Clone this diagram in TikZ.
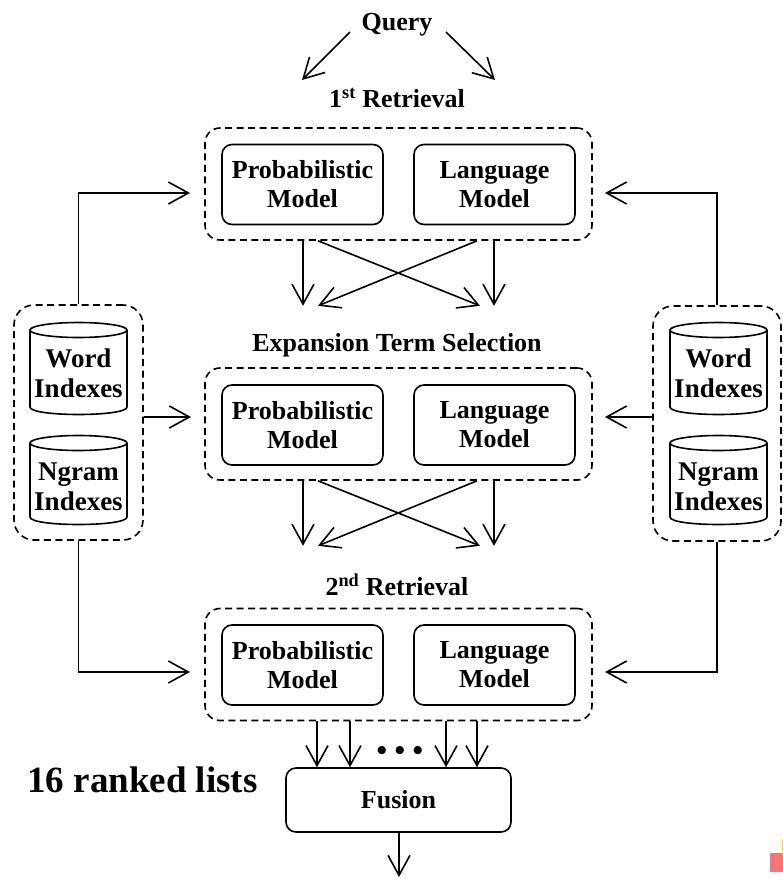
\documentclass[tikz,border=0pt]{standalone}
\usepackage{fontspec}
\setmainfont{Liberation Serif}
\usetikzlibrary{arrows.meta}

% Cylinder: #1 centre x, #2 x radius, #3 top y, #4 bottom y, #5 y radius
\newcommand\dbdrum[5]{%
  \draw (#1-#2,#3) -- (#1-#2,#4)
    .. controls (#1-#2,#4+1.333*#5) and (#1+#2,#4+1.333*#5) .. (#1+#2,#4)
    -- (#1+#2,#3);
  \draw (#1,#3) ellipse[x radius=#2pt, y radius=#5pt];
}

\begin{document}
\begin{tikzpicture}[x=1pt,y=-1pt,line width=1.6pt,
  arr/.style={-{Straight Barb[length=20pt,width=22pt]}},
  grp/.style={draw,dash pattern=on 7pt off 4.5pt,rounded corners=15pt,
    minimum width=387pt,minimum height=112pt,inner sep=0pt},
  dbgrp/.style={draw,dash pattern=on 7pt off 4.5pt,rounded corners=20pt,
    minimum height=235pt,inner sep=0pt},
  model/.style={draw,rounded corners=10pt,minimum width=161pt,minimum height=80pt,
    align=center,inner sep=0pt,font=\fontsize{26}{29}\selectfont\bfseries},
  lbl/.style={inner sep=0pt,align=center,font=\fontsize{26}{29}\selectfont\bfseries}
]
\useasboundingbox (0,0) rectangle (783,879);

% query and first retrieval
\node[lbl] (query) at (397,25) {Query};
\coordinate (qs1) at (350,32);  \coordinate (qe1) at (302,80);
\coordinate (qs2) at (446,32);  \coordinate (qe2) at (495,80);
\draw[arr] (qs1) -- (qe1);
\draw[arr] (qs2) -- (qe2);

\node[lbl] (t1) at (397,98) {1\textsuperscript{st} Retrieval};
\node[grp] (g1) at (398.5,184) {};
\node[model] (p1) at (302.5,184.5) {Probabilistic\\Model};
\node[model] (l1) at (494.5,184.5) {Language\\Model};

% expansion term selection
\node[lbl] (t2) at (397,345) {Expansion Term Selection};
\node[grp] (g2) at (398.5,424) {};
\node[model] (p2) at (302.5,425) {Probabilistic\\Model};
\node[model] (l2) at (494.5,425) {Language\\Model};

% second retrieval
\node[lbl] (t3) at (397,585) {2\textsuperscript{nd} Retrieval};
\node[grp] (g3) at (398.5,664.5) {};
\node[model] (p3) at (302.5,665) {Probabilistic\\Model};
\node[model] (l3) at (494.5,665) {Language\\Model};

% crossed links between stages
\foreach \g in {g1, g2} {
  \draw[arr] (303,0 |- \g.south) -- ++(0,65);
  \draw[arr] (494,0 |- \g.south) -- ++(0,65);
  \draw[arr] (318,0 |- \g.south) -- ++(162,65);
  \draw[arr] (477,0 |- \g.south) -- ++(-159,65);
}

% fusion
\node[draw,rounded corners=10pt,minimum width=225pt,minimum height=64pt,
  font=\fontsize{26}{29}\selectfont\bfseries] (fus) at (398.5,800) {Fusion};
\foreach \x in {317,350,446,477}
  \draw[arr] (\x,0 |- g3.south) -- (\x,0 |- fus.north);
\node[lbl,font=\fontsize{30}{32}\selectfont\bfseries] (dots) at (400,753) {• • •};
\coordinate (out) at (399,877);
\draw[arr] (fus.south -| out) -- (out);

\node[inner sep=0pt,font=\fontsize{37}{40}\selectfont\bfseries] (rank) at (142.5,780) {16 ranked lists};

% index groups
\node[dbgrp,minimum width=129pt] (dbl) at (78.5,422.5) {};
\node[dbgrp,minimum width=128pt] (dbr) at (717,423.5) {};

\dbdrum{78.5}{48.5}{330}{407}{7.5}
\dbdrum{78.5}{48.5}{443}{517}{7.5}
\dbdrum{718.5}{48.5}{330}{407}{7.5}
\dbdrum{718.5}{48.5}{443}{517}{7.5}

\node[lbl,font=\fontsize{27}{30}\selectfont\bfseries] (wl) at (78.5,373) {Word\\Indexes};
\node[lbl,font=\fontsize{27}{30}\selectfont\bfseries] (nl) at (78.5,487) {Ngram\\Indexes};
\node[lbl,font=\fontsize{27}{30}\selectfont\bfseries] (wr) at (718.5,373) {Word\\Indexes};
\node[lbl,font=\fontsize{27}{30}\selectfont\bfseries] (nr) at (718.5,487) {Ngram\\Indexes};

% feeds from the indexes
\coordinate (inA) at (190,193);
\coordinate (inB) at (191,417);
\coordinate (inC) at (190,672);
\coordinate (inD) at (605,193);
\coordinate (inE) at (605,417);
\coordinate (inF) at (605,672);
\draw[arr] (dbl.north) |- (inA);
\draw[arr] (dbl.east |- inB) -- (inB);
\draw[arr] (dbl.south) |- (inC);
\draw[arr] (dbr.north) |- (inD);
\draw[arr] (dbr.west |- inE) -- (inE);
\draw[arr] (dbr.south) |- (inF);

% corner mark
\fill[red!55] (770,853) rectangle (783,872);
\fill[yellow!80!orange] (781.5,838) rectangle (783,855);
\end{tikzpicture}
\end{document}
